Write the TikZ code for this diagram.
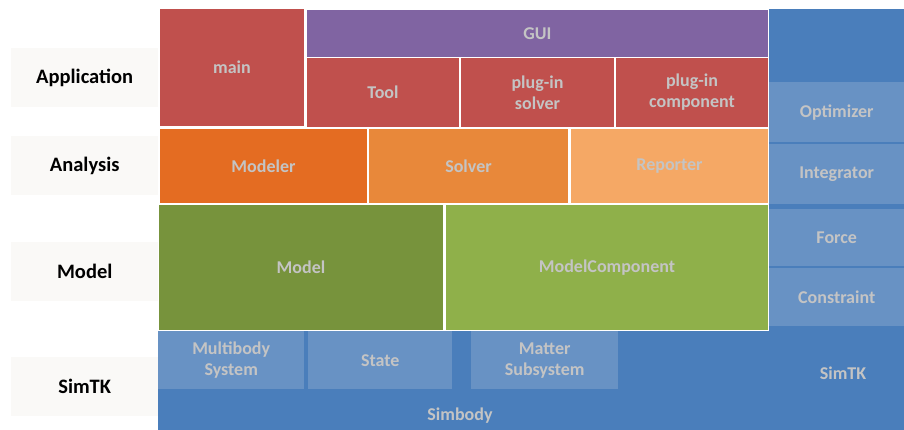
\documentclass[tikz,border=0pt]{standalone}
\usepackage{fontspec}
\setmainfont{Carlito}
\definecolor{cRed}{HTML}{C0504D}
\definecolor{cPurple}{HTML}{8064A2}
\definecolor{cModeler}{HTML}{E46C22}
\definecolor{cSolver}{HTML}{E8883A}
\definecolor{cReporter}{HTML}{F5A865}
\definecolor{cModel}{HTML}{77933C}
\definecolor{cComp}{HTML}{8FB04A}
\definecolor{cBlue}{HTML}{4A7EBB}
\definecolor{cLight}{HTML}{6892C4}
\definecolor{cTxt}{HTML}{C4C4C4}
\definecolor{cLab}{HTML}{FAF9F7}
\begin{document}
\begin{tikzpicture}[x=1pt,y=-1pt,
  blk/.style={rectangle, anchor=north west, inner sep=0pt, draw=white, line width=1pt,
    align=center, text=cTxt, font=\fontsize{18}{21}\selectfont\bfseries},
  lbox/.style={rectangle, anchor=north west, inner sep=0pt, fill=cLight,
    align=center, text=cTxt, font=\fontsize{18}{21}\selectfont\bfseries},
  lab/.style={rectangle, anchor=north west, inner sep=0pt, fill=cLab,
    minimum width=147pt, minimum height=59pt, text=black, font=\fontsize{20.5}{24}\selectfont\bfseries},
  btxt/.style={inner sep=0pt, text=cTxt, font=\fontsize{18}{21}\selectfont\bfseries}]
\useasboundingbox (0,0) rectangle (904,430);
% background blue
\fill[cBlue] (769,9) rectangle (904,430);
\fill[cBlue] (158,331) rectangle (904,430);
% labels
\node[lab] (lApp) at (11,48) {Application};
\node[lab] (lAna) at (11,136) {Analysis};
\node[lab] (lMod) at (11,242) {Model};
\node[lab] (lSim) at (11,357) {SimTK};
% application
\node[blk, fill=cRed, minimum width=145pt, minimum height=118pt] (main) at (159,8) {main};
\node[blk, fill=cPurple, minimum width=462pt, minimum height=48pt] (gui) at (306,9) {GUI};
\node[blk, fill=cRed, minimum width=153pt, minimum height=70pt] (tool) at (306,57) {Tool};
\node[blk, fill=cRed, minimum width=154pt, minimum height=70pt] (psolver) at (460,57) {plug-in\\solver};
\node[blk, fill=cRed, minimum width=153pt, minimum height=70pt] (pcomp) at (615,57) {plug-in\\component};
% analysis
\node[blk, fill=cModeler, minimum width=208pt, minimum height=75pt] (modeler) at (159,128) {Modeler};
\node[blk, fill=cSolver, minimum width=200pt, minimum height=75pt] (solver) at (368,128) {Solver};
\node[blk, fill=cReporter, minimum width=198pt, minimum height=75pt] (reporter) at (570,128) {Reporter};
% model
\node[blk, fill=cModel, minimum width=285pt, minimum height=126pt] (model) at (158,204) {Model};
\node[blk, fill=cComp, minimum width=323pt, minimum height=126pt] (mcomp) at (445,204) {ModelComponent};
% right column
\node[lbox, minimum width=135pt, minimum height=60pt] (opt) at (769,82) {Optimizer};
\node[lbox, minimum width=135pt, minimum height=60pt] (integ) at (769,144) {Integrator};
\node[lbox, minimum width=135pt, minimum height=57pt] (force) at (769,209) {Force};
\node[lbox, minimum width=135pt, minimum height=58pt] (constr) at (769,268) {Constraint};
% simtk bottom
\node[lbox, minimum width=146pt, minimum height=58pt] (mbs) at (158,331) {Multibody\\System};
\node[lbox, minimum width=144pt, minimum height=58pt] (state) at (308,331) {State};
\node[lbox, minimum width=147pt, minimum height=58pt] (matter) at (471,331) {Matter\\Subsystem};
\node[btxt] (simbody) at (460,416) {Simbody};
\node[btxt] (simtk) at (843,373) {SimTK};
\end{tikzpicture}
\end{document}
